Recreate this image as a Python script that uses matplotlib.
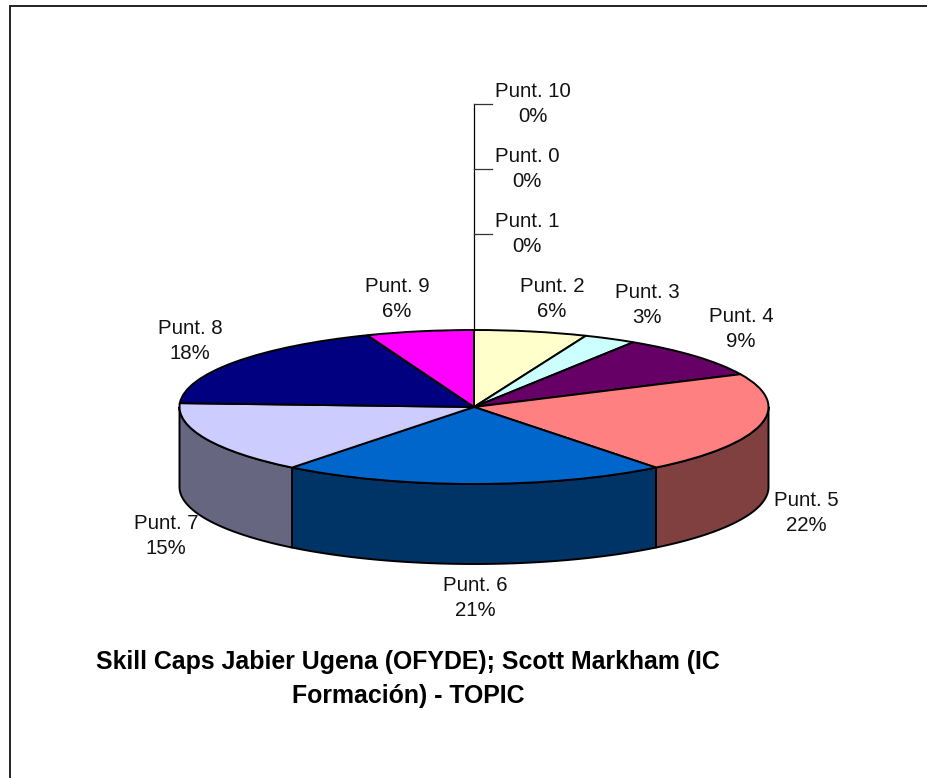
import numpy as np
import matplotlib
matplotlib.use("Agg")
import matplotlib.pyplot as plt

plt.rcParams['font.family'] = ['Liberation Sans', 'DejaVu Sans']

# ---- data ----
categories = ["Punt. 0", "Punt. 1", "Punt. 2", "Punt. 3", "Punt. 4", "Punt. 5",
              "Punt. 6", "Punt. 7", "Punt. 8", "Punt. 9", "Punt. 10"]
values = [0, 0, 6.2, 2.9, 8.9, 21.4, 21.2, 15.2, 18.3, 5.9, 0]
percent_labels = ["0%", "0%", "6%", "3%", "9%", "22%", "21%", "15%", "18%", "6%", "0%"]
title_text = "Skill Caps Jabier Ugena (OFYDE); Scott Markham (IC\nFormación) - TOPIC"

# ---- style / layout ----
top_colors = ["#993366", "#FFFFFF", "#FFFFCC", "#CCFFFF", "#660066", "#FF8080",
              "#0066CC", "#CCCCFF", "#000080", "#FF00FF", "#00FFFF"]
W, H = 928, 778
CX, CY, RX, RY, DEPTH = 474, 407, 294.5, 77, 80
label_xy = [(527, 169), (527, 234), (552, 299), (647, 305), (741, 329), (806, 513),
            (475, 598), (166, 536), (190, 341), (397, 299), (533, 104)]
FONT = 14.7
EDGE = 1.4

fig = plt.figure(figsize=(W / 100, H / 100), dpi=100, facecolor="white")
ax = fig.add_axes([0, 0, 1, 1])
wedges, _ = ax.pie(values, colors=top_colors, startangle=90, counterclock=False,
                   wedgeprops=dict(edgecolor="black", linewidth=EDGE))
ax.set_aspect("auto")
ax.set_xlim((0 - CX) / RX, (W - CX) / RX)
ax.set_ylim((CY - H) / RY, CY / RY)
d = DEPTH / RY


def shade(c):
    return tuple(0.5 * v for v in matplotlib.colors.to_rgb(c))


# extruded rim: visible part of every slice, taken from the pie's own wedge angles
for w, col in zip(wedges, top_colors):
    for k in (-1, 0, 1):
        a = max(w.theta1 + 360 * k, 180)
        b = min(w.theta2 + 360 * k, 360)
        if b > a:
            t = np.radians(np.linspace(a, b, 100))
            x, y = np.cos(t), np.sin(t)
            ax.fill(np.r_[x, x[::-1]], np.r_[y, y[::-1] - d], facecolor=shade(col),
                    edgecolor="black", linewidth=EDGE, zorder=0.5, joinstyle="round")

# overlay in pixel coordinates for frame, leader lines and text
ov = fig.add_axes([0, 0, 1, 1], facecolor="none")
ov.set_xlim(0, W)
ov.set_ylim(H, 0)
ov.axis("off")

ov.plot([10.5, 10.5, W], [H, 5.5, 5.5], color="#222222", lw=1.4, solid_joinstyle="miter")

ov.plot([474, 474], [104, 330], color="black", lw=0.9)
for yy in (104, 169, 234):
    ov.plot([474, 492], [yy, yy], color="#333333", lw=0.9)

for name, pct, (x, y) in zip(categories, percent_labels, label_xy):
    ov.text(x, y, f"{name}\n{pct}", ha="center", va="center", multialignment="center",
            fontsize=FONT, linespacing=1.46, color="#111111")

ov.text(408, 679, title_text, ha="center", va="center", multialignment="center",
        fontsize=17.9, fontweight="bold", linespacing=1.52, color="black")

fig.savefig("out.png", dpi=100, facecolor="white")
